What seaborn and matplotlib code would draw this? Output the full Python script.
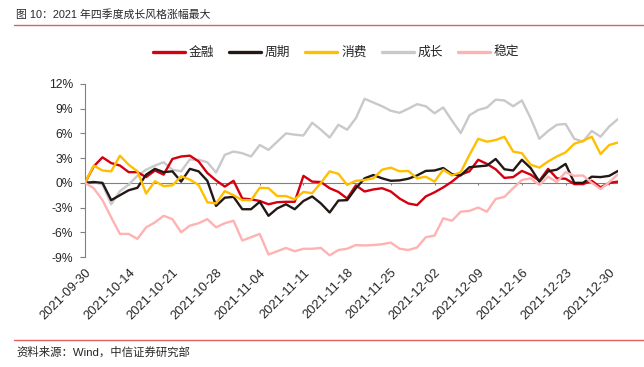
import numpy as np
import pandas as pd
import matplotlib
matplotlib.use("Agg")
import matplotlib.pyplot as plt
from matplotlib.ticker import FixedLocator, FuncFormatter
import seaborn as sns

# ── Data (cumulative return, %, by trading day 2021-09-30 .. 2021-12-31) ──
FINANCE = [0, 2.0, 3.1, 2.4, 2.1, 1.3, 1.3, 0.7, 1.5, 1.0, 2.9, 3.2, 3.3, 2.6, 1.2, 0.3,
           -0.45, 0.25, -1.9, -2.0, -2.2, -2.6, -2.35, -2.3, -2.3, 0.85, 0.15, 0.1, -0.65,
           -1.1, -1.9, -0.3, -1.05, -0.8, -0.65, -1.05, -1.9, -2.5, -2.7, -1.65, -1.15,
           -0.55, 0.15, 1.0, 1.4, 2.8, 2.3, 1.65, 0.6, 0.7, 1.45, 1.0, 0.25, 1.7, 0.55,
           0.5, -0.15, -0.15, 0.25, -0.55, 0.0, 0.15]
CYCLE = [0, 0.1, 0.0, -2.1, -1.5, -0.9, -0.6, 1.0, 1.7, 1.3, 1.4, 0.15, 1.7, 1.4, 0.25,
         -2.8, -1.8, -1.7, -3.2, -3.2, -2.3, -4.0, -3.1, -2.6, -3.2, -2.2, -1.65, -2.5,
         -3.6, -2.15, -2.1, -0.65, 0.55, 0.95, 0.55, 0.25, 0.3, 0.5, 0.9, 1.45, 1.5, 1.8,
         1.05, 0.9, 1.9, 2.0, 2.1, 2.9, 1.65, 1.5, 2.8, 1.8, 0.15, 1.4, 1.6, 2.3, 0.0,
         0.0, 0.75, 0.7, 0.85, 1.45]
CONSUMER = [0, 2.1, 1.5, 1.4, 3.3, 2.2, 1.4, -1.3, 0.2, -0.4, -0.3, 0.8, 0.4, -0.25,
            -2.35, -2.5, -1.0, -1.5, -2.1, -2.1, -0.6, -0.65, -1.6, -1.6, -2.0, -1.1,
            -1.25, 0.0, 1.4, 1.1, -0.25, 0.25, 0.35, 0.55, 1.6, 1.85, 1.4, 1.45, 0.55,
            0.75, 0.15, 1.6, 0.9, 1.3, 3.4, 5.35, 5.0, 5.2, 5.6, 3.8, 3.6, 2.2, 1.85,
            2.6, 3.2, 3.7, 4.75, 5.1, 5.6, 3.5, 4.6, 4.9]
GROWTH = [0, 0.1, -0.2, -2.6, -1.0, -0.2, 0.85, 1.6, 2.1, 2.5, 1.6, 1.4, 2.85, 2.8, 2.5,
          1.25, 3.4, 3.8, 3.6, 3.2, 4.6, 4.0, 5.0, 6.0, 5.85, 5.75, 7.3, 6.45, 5.5, 7.05,
          6.45, 7.85, 10.2, 9.75, 9.3, 8.75, 8.5, 9.0, 9.55, 9.3, 8.45, 9.15, 7.55, 6.05,
          8.2, 8.85, 9.15, 10.1, 10.0, 9.3, 10.0, 7.85, 5.35, 6.3, 7.05, 7.15, 5.35, 5.0,
          6.3, 5.6, 6.85, 7.75]
STABLE = [0, -0.65, -2.1, -4.2, -6.2, -6.2, -6.8, -5.4, -4.8, -4.0, -4.4, -6.0, -5.2,
          -4.9, -4.4, -5.4, -4.9, -4.6, -7.0, -6.6, -6.2, -8.7, -8.3, -7.9, -8.3, -8.0,
          -8.0, -7.9, -8.8, -8.15, -8.0, -7.55, -7.6, -7.55, -7.45, -7.25, -8.0, -8.15,
          -7.85, -6.6, -6.4, -4.3, -4.6, -3.5, -3.4, -3.0, -3.5, -1.95, -1.7, -0.65,
          0.35, 0.55, -0.25, 0.75, 0.1, 1.3, 0.85, 0.9, 0.0, -0.75, 0.1, 1.05]

SERIES = ["金融", "周期", "消费", "成长", "稳定"]
COLORS = ["#D3000F", "#231815", "#FFBF00", "#C9C9C9", "#FFB2B2"]
TICK_LABELS = ["2021-09-30", "2021-10-14", "2021-10-21", "2021-10-28", "2021-11-04",
               "2021-11-11", "2021-11-18", "2021-11-25", "2021-12-02", "2021-12-09",
               "2021-12-16", "2021-12-23", "2021-12-30"]
Y_TICKS = [-9, -6, -3, 0, 3, 6, 9, 12]

sns.set_style("white")
plt.rcParams["font.family"] = ["Liberation Sans", "Noto Sans CJK SC", "DejaVu Sans"]

n = len(FINANCE)
df = pd.DataFrame({
    "day": np.tile(np.arange(n), len(SERIES)),
    "ret": np.concatenate([FINANCE, CYCLE, CONSUMER, GROWTH, STABLE]),
    "style": np.repeat(SERIES, n),
})

fig = plt.figure(figsize=(6.44, 3.67), dpi=100)
ax = fig.add_axes([85 / 644, 1 - 257 / 367, 533 / 644, 173 / 367])

# zero line first so the series sit on top
ax.axhline(0, color="#808080", linewidth=0.8, zorder=1)

sns.lineplot(data=df, x="day", y="ret", hue="style", hue_order=SERIES,
             palette=dict(zip(SERIES, COLORS)), linewidth=1.7, ax=ax,
             legend=False, zorder=3)
# gray underneath the others, like the reference
for line in ax.get_lines()[1:]:
    if line.get_color() == "#C9C9C9":
        line.set_zorder(2)

ax.set_xlim(0, n - 1)
ax.set_ylim(-9, 12)
ax.set_xlabel("")
ax.set_ylabel("")

# y axis
ax.yaxis.set_major_locator(FixedLocator(Y_TICKS))
ax.yaxis.set_major_formatter(FuncFormatter(lambda v, _: f"{v:.0f}%"))
ax.tick_params(axis="y", direction="out", length=3.6, width=0.8, color="#808080",
               labelsize=8.7, pad=5, left=True)
for s in ["top", "right"]:
    ax.spines[s].set_visible(False)
ax.spines["left"].set_color("#808080")
ax.spines["left"].set_linewidth(0.8)

# x ticks on the zero line, labels at the bottom
tick_pos = list(range(0, n, 5))
ax.spines["bottom"].set_visible(False)
ax.set_xticks(tick_pos)
ax.set_xticklabels([])
ax.tick_params(axis="x", direction="out", length=0)
ax.vlines(tick_pos, -0.3, 0, color="#808080", linewidth=0.8, zorder=1)

sec = ax.secondary_xaxis("bottom")
sec.set_xticks(tick_pos)
sec.set_xticklabels(TICK_LABELS, rotation=45, ha="right", rotation_mode="anchor",
                    fontsize=9.3)
sec.tick_params(length=0, pad=7)
sec.spines["bottom"].set_visible(False)

# legend
handles = [plt.Line2D([], [], color=c, linewidth=2.4) for c in COLORS]
fig.legend(handles, SERIES, loc="center", bbox_to_anchor=(336 / 644, 1 - 53 / 367),
           ncol=5, frameon=False, fontsize=9.2, handlelength=2.5, columnspacing=1.17,
           handletextpad=0.3)

# title and source with red rules
fig.text(16 / 644, 1 - 14 / 367, "图 10：2021 年四季度成长风格涨幅最大",
         fontsize=7.8, va="center", ha="left")
fig.add_artist(plt.Line2D([14 / 644, 1], [1 - 25 / 367] * 2, color="#E06060",
                          linewidth=1.0))
fig.add_artist(plt.Line2D([14 / 644, 1], [1 - 340 / 367] * 2, color="#E06060",
                          linewidth=1.0))
fig.text(16 / 644, 1 - 352 / 367, "资料来源：Wind，中信证券研究部",
         fontsize=8.2, va="center", ha="left")

fig.savefig("out.png", dpi=100)
plt.close(fig)
